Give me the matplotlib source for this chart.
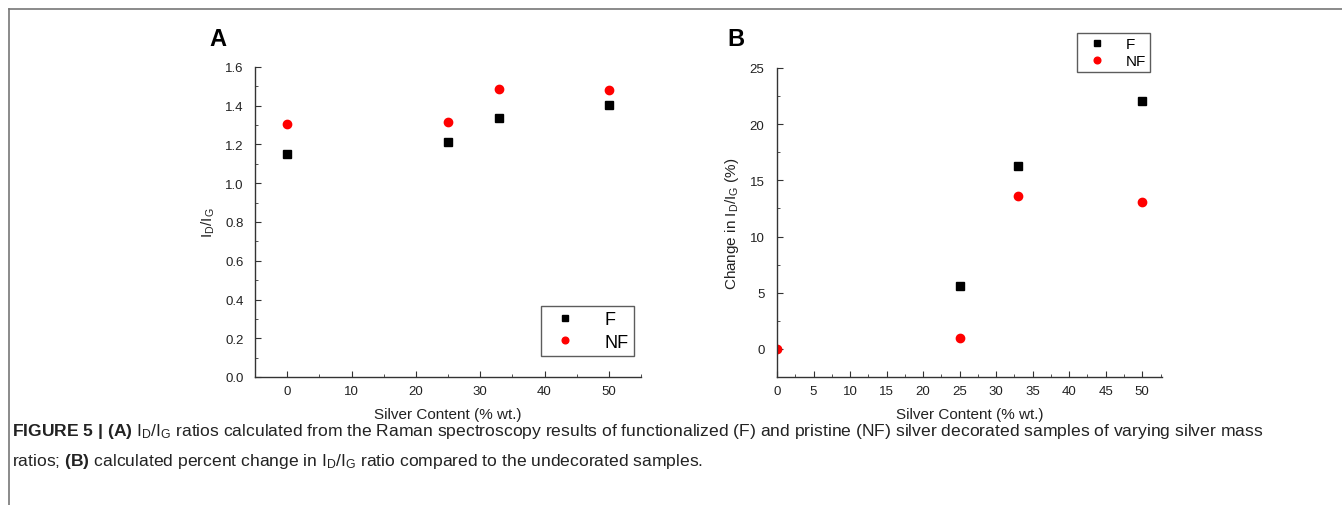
import matplotlib
matplotlib.use("Agg")
import matplotlib.pyplot as plt
from matplotlib.ticker import MultipleLocator, FormatStrFormatter

plt.rcParams['font.family'] = ['Liberation Sans', 'DejaVu Sans']
plt.rcParams['mathtext.fontset'] = 'custom'
plt.rcParams['mathtext.rm'] = 'Liberation Sans'
plt.rcParams['mathtext.it'] = 'Liberation Sans'
plt.rcParams['mathtext.bf'] = 'Liberation Sans:bold'

# silver content (% wt.)
silver = [0, 25, 33, 50]

# panel A: ID/IG ratios
ratio_F = [1.15, 1.212, 1.336, 1.402]
ratio_NF = [1.305, 1.318, 1.485, 1.48]

# panel B: percent change vs undecorated (F at 0 % is hidden under NF)
silver_B_F = [25, 33, 50]
change_F = [5.6, 16.3, 22.1]
change_NF = [0.0, 1.0, 13.6, 13.1]

axis_col = '#333333'
txt_col = '#222222'

fig = plt.figure(figsize=(13.42, 5.06), dpi=100)

# outer frame lines (top and left)
fig.add_artist(plt.Line2D([9/1342, 1], [1-10/506, 1-10/506], color='#777777', lw=1.2))
fig.add_artist(plt.Line2D([9/1342, 9/1342], [0, 1-10/506], color='#777777', lw=1.2))


def style(ax):
    for s in ['top', 'right']:
        ax.spines[s].set_visible(False)
    for s in ['left', 'bottom']:
        ax.spines[s].set_color(axis_col)
        ax.spines[s].set_linewidth(1.0)
    ax.tick_params(which='both', direction='in', colors=axis_col, labelcolor=txt_col, labelsize=9.5)
    ax.tick_params(which='major', length=4)
    ax.tick_params(which='minor', length=2.5)
    ax.tick_params(axis='x', pad=6)


# ---- panel A
axA = fig.add_axes([255/1342, 1-378/506, 386/1342, 310/506])
axA.plot(silver, ratio_F, 's', color='black', ms=6, label='F', clip_on=False)
axA.plot(silver, ratio_NF, 'o', color='red', ms=6, label='NF', clip_on=False)
axA.set_xlim(-5, 55)
axA.set_ylim(0, 1.6)
axA.xaxis.set_major_locator(MultipleLocator(10))
axA.xaxis.set_minor_locator(MultipleLocator(5))
axA.yaxis.set_major_locator(MultipleLocator(0.2))
axA.yaxis.set_minor_locator(MultipleLocator(0.1))
axA.yaxis.set_major_formatter(FormatStrFormatter('%.1f'))
style(axA)
axA.tick_params(axis='y', pad=8)
axA.set_xlabel('Silver Content (% wt.)', fontsize=11, color=txt_col, labelpad=7)
axA.set_ylabel(r'I$_\mathrm{D}$/I$_\mathrm{G}$', fontsize=11, color=txt_col, labelpad=6)
legA = axA.legend(loc='lower right', bbox_to_anchor=(0.982, 0.068), borderaxespad=0,
                  fontsize=13, frameon=True, fancybox=False, edgecolor='#333333',
                  handletextpad=1.2, markerscale=0.8, borderpad=0.3, labelspacing=0.3)
legA.get_frame().set_linewidth(1.0)
fig.text(209/1342, 1-40/506, 'A', fontsize=17, fontweight='bold', va='center', ha='left')

# ---- panel B
axB = fig.add_axes([777/1342, 1-378/506, 385/1342, 309/506])
axB.plot(silver_B_F, change_F, 's', color='black', ms=6, label='F')
axB.plot(silver, change_NF, 'o', color='red', ms=6, label='NF')
axB.set_xlim(0, 52.7)
axB.set_ylim(-2.5, 25)
axB.xaxis.set_major_locator(MultipleLocator(5))
axB.xaxis.set_minor_locator(MultipleLocator(2.5))
axB.yaxis.set_major_locator(MultipleLocator(5))
axB.yaxis.set_minor_locator(MultipleLocator(2.5))
style(axB)
axB.tick_params(axis='y', pad=9)
axB.set_xlabel('Silver Content (% wt.)', fontsize=11, color=txt_col, labelpad=7)
axB.set_ylabel(r'Change in I$_\mathrm{D}$/I$_\mathrm{G}$ (%)', fontsize=11, color=txt_col, labelpad=6)
legB = axB.legend(loc='upper right', bbox_to_anchor=(0.968, 1.113), borderaxespad=0,
                  fontsize=11, frameon=True, fancybox=False, edgecolor='#333333',
                  handletextpad=0.9, markerscale=0.8, borderpad=0.25, labelspacing=0.2)
legB.get_frame().set_linewidth(1.0)
fig.text(727/1342, 1-40/506, 'B', fontsize=17, fontweight='bold', va='center', ha='left')

# ---- caption
cap1 = (r'$\mathbf{FIGURE\ 5\ |\ (A)}$ I$_\mathrm{D}$/I$_\mathrm{G}$ ratios calculated from the Raman '
        r'spectroscopy results of functionalized (F) and pristine (NF) silver decorated samples of varying silver mass')
cap2 = (r'ratios; $\mathbf{(B)}$ calculated percent change in I$_\mathrm{D}$/I$_\mathrm{G}$ ratio '
        r'compared to the undecorated samples.')
fig.text(12/1342, 1-432/506, cap1, fontsize=12.6, color=txt_col, va='center', ha='left')
fig.text(12/1342, 1-462/506, cap2, fontsize=12.6, color=txt_col, va='center', ha='left')

fig.savefig('out.png', dpi=100)
